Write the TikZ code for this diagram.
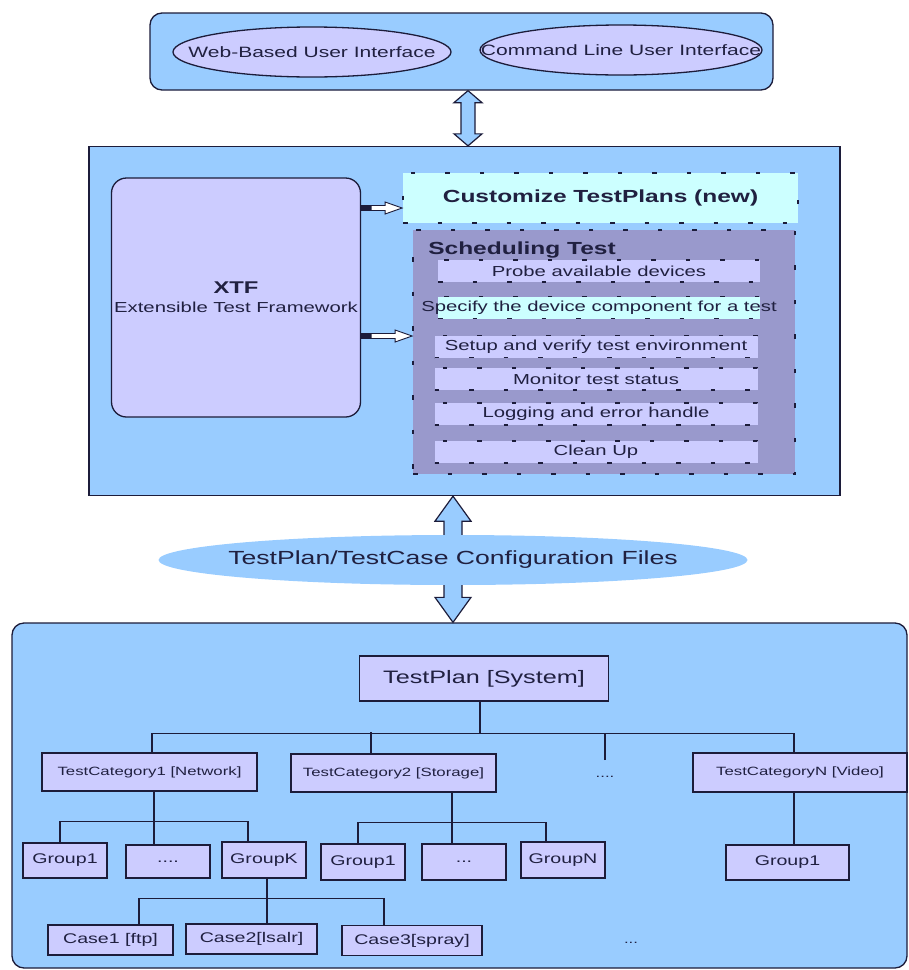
\documentclass[tikz,border=0pt]{standalone}
\usepackage{fontspec}
\setmainfont{Liberation Sans}[FakeStretch=1.4]
\usetikzlibrary{shapes.geometric,calc}

\definecolor{skyfill}{HTML}{99CCFF}
\definecolor{boxfill}{HTML}{CCCCFF}
\definecolor{schedfill}{HTML}{9999CC}
\definecolor{cyanfill}{HTML}{CCFFFF}
\definecolor{edgec}{HTML}{1C1C3A}
\definecolor{inkc}{HTML}{202040}

% text whose width does not enlarge its box
\newcommand\zw[1]{\makebox[0pt][c]{#1}}

% vertical block arrow with a head at each end
\newcommand\vdblarrow[5]{%
  \path[bigarrow] let \p1=(#1), \p2=(#2) in
    (\x1,\y1) -- (\x1+#4,\y1-#5) -- (\x1+#3,\y1-#5) -- (\x1+#3,\y2+#5)
    -- (\x1+#4,\y2+#5) -- (\x1,\y2) -- (\x1-#4,\y2+#5) -- (\x1-#3,\y2+#5)
    -- (\x1-#3,\y1-#5) -- (\x1-#4,\y1-#5) -- cycle;}

% small hollow arrow with a dark stub at its start
\newcommand\hollowarrow[2]{%
  \fill[edgec] let \p1=(#1) in (\x1,\y1-2.8) rectangle (\x1+10,\y1+2.8);
  \filldraw[fill=white, draw=edgec, line width=0.9pt] let \p1=(#1), \p2=(#2) in
    (\x1+10,\y1+2.5) -- (\x2-17,\y1+2.5) -- (\x2-17,\y1+6) -- (\x2,\y1)
    -- (\x2-17,\y1-6) -- (\x2-17,\y1-2.5) -- (\x1+10,\y1-2.5) -- cycle;}

\tikzset{
  base/.style={draw=edgec, line width=1.3pt, text=inkc, inner sep=0pt},
  panel/.style={base, fill=skyfill, rounded corners=12pt},
  uiell/.style={base, ellipse, fill=boxfill, minimum height=50pt,
    font=\fontsize{15}{18}\selectfont},
  dashbox/.style={draw=edgec, line width=1.8pt, dash pattern=on 4.5pt off 30pt,
    text=inkc, inner sep=0pt},
  taskbox/.style={dashbox, fill=boxfill, minimum width=323pt, minimum height=22pt,
    font=\fontsize{14.5}{17}\selectfont},
  bigarrow/.style={fill=skyfill, draw=edgec, line width=1.2pt},
  treebox/.style={base, fill=boxfill, line width=1.4pt, font=\fontsize{14}{16}\selectfont},
  catbox/.style={treebox, minimum height=38pt, font=\fontsize{12}{14}\selectfont},
  groupbox/.style={treebox, minimum width=84pt, minimum height=36pt},
  casebox/.style={treebox, minimum height=30pt},
  tree/.style={draw=edgec, line width=1.4pt},
  plain/.style={text=inkc, inner sep=0pt},
}

\begin{document}
\begin{tikzpicture}[x=1pt, y=-1pt]
\useasboundingbox (0,0) rectangle (909,970);

% user interfaces
\node[panel, minimum width=623pt, minimum height=77pt] (ui) at (461.5,51.5) {};
\node[uiell, minimum width=278pt] (web) at (312,52) {\zw{Web-Based User Interface}};
\node[uiell, minimum width=282pt] (cli) at (621,50) {\zw{Command Line User Interface}};

% framework panel
\node[base, fill=skyfill, minimum width=751pt, minimum height=349pt] (core) at (464.5,321) {};
\node[base, fill=boxfill, rounded corners=15pt, minimum width=249pt, minimum height=239pt,
      align=center, font=\fontsize{14.5}{19}\selectfont] (xtf) at (236,297.5)
      {\zw{\fontsize{17}{19}\selectfont\bfseries XTF}\\\zw{Extensible Test Framework}};

\node[dashbox, fill=cyanfill, minimum width=395pt, minimum height=50pt,
      font=\fontsize{17.5}{20}\selectfont\bfseries] (cust) at (600.5,198)
      {\zw{Customize TestPlans (new)}};

\node[dashbox, fill=schedfill, minimum width=382pt, minimum height=244pt] (sched) at (604,352) {};
\node[plain, anchor=west, font=\fontsize{17.5}{20}\selectfont\bfseries] (schedt)
      at ($(sched.north west)+(16,21)$) {Scheduling Test};

\node[taskbox, minimum width=322pt] (t1) at (599,271) {\zw{Probe available devices}};
\node[taskbox, fill=cyanfill, minimum width=322pt] (t2) at (599,307.5) {\zw{Specify the device component for a test}};
\node[taskbox] (t3) at (596,346.5) {\zw{Setup and verify test environment}};
\node[taskbox] (t4) at (596,379) {\zw{Monitor test status}};
\node[taskbox] (t5) at (596,414) {\zw{Logging and error handle}};
\node[taskbox] (t6) at (596,452) {\zw{Clean Up}};

\hollowarrow{xtf.east |- 0,208}{cust.west |- 0,208}
\hollowarrow{xtf.east |- 0,336}{sched.west |- 0,336}

% test plan hierarchy panel
\node[panel, minimum width=895pt, minimum height=345pt] (plan) at (459.5,795.5) {};

% arrows between the panels
\vdblarrow{[xshift=6.5pt]ui.south}{core.north}{7}{14}{12}
\coordinate (cfgc) at (453,560);
\vdblarrow{core.south -| cfgc}{plan.north}{9}{18}{25}

\node[ellipse, fill=skyfill, minimum width=589pt, minimum height=50pt, inner sep=0pt,
      text=inkc, font=\fontsize{19}{22}\selectfont] (cfg) at (cfgc)
      {\zw{TestPlan/TestCase Configuration Files}};

% tree nodes
\node[treebox, minimum width=249pt, minimum height=45pt, font=\fontsize{18}{20}\selectfont]
      (tp) at (484,678.5) {\zw{TestPlan [System]}};

\node[catbox, minimum width=215pt] (cat1) at (149.5,772) {\zw{TestCategory1 [Network]}};
\node[catbox, minimum width=205pt] (cat2) at (393.5,773) {\zw{TestCategory2 [Storage]}};
\node[catbox, minimum width=214pt, minimum height=39pt] (catn) at (800,772.5) {\zw{TestCategoryN [Video]}};
\node[plain, font=\fontsize{12}{14}\selectfont] (catdots) at (605,777) {....};

\node[groupbox, minimum height=35pt] (g11) at (65,860.5) {Group1};
\node[groupbox, minimum height=33pt] (g12) at (168,861.5) {....};
\node[groupbox] (g1k) at (264,860) {GroupK};
\node[groupbox] (g21) at (363,862) {Group1};
\node[groupbox] (g22) at (464,862) {...};
\node[groupbox] (g2n) at (563,860) {GroupN};
\node[groupbox, minimum width=123pt, minimum height=35pt] (gn1) at (787.5,862.5) {Group1};

\node[casebox, minimum width=125pt] (c1) at (110.5,940) {Case1 [ftp]};
\node[casebox, minimum width=131pt] (c2) at (251.5,939) {Case2[lsalr]};
\node[casebox, minimum width=140pt] (c3) at (412,940.5) {Case3[spray]};
\node[plain, font=\fontsize{12}{14}\selectfont] (casedots) at (631,943) {...};

% tree connectors
\draw[tree] ([xshift=-4pt]tp.south) -- ++(0,32) coordinate (bus0);
\draw[tree] ([xshift=2.5pt]cat1.north) |- (bus0) -| ([xshift=-6pt]catn.north);
\draw[tree] ([xshift=-22.5pt]cat2.north) -- ++(0,-21);
\coordinate (dotsend) at (catdots.north |- 0,760);
\draw[tree] (dotsend) -- (dotsend |- bus0);

\draw[tree] ([xshift=4.5pt]cat1.south) -- ++(0,30) coordinate (bus1);
\draw[tree] ([xshift=-5pt]g11.north) |- (bus1) -| ([xshift=-16pt]g1k.north);
\draw[tree] (bus1) -- ([xshift=-14pt]g12.north);

\draw[tree] ([xshift=58.5pt]cat2.south) -- ++(0,30) coordinate (bus2);
\draw[tree] ([xshift=-5pt]g21.north) |- (bus2) -| ([xshift=-17pt]g2n.north);
\draw[tree] (bus2) -- ([xshift=-12pt]g22.north);

\draw[tree] ([xshift=-6pt]catn.south) -- ([xshift=6.5pt]gn1.north);

\draw[tree] ([xshift=3pt]g1k.south) -- ++(0,20) coordinate (bus3);
\draw[tree] ([xshift=28.5pt]c1.north) |- (bus3) -| ([xshift=-28pt]c3.north);
\draw[tree] (bus3) -- ([xshift=15.5pt]c2.north);
\end{tikzpicture}
\end{document}
